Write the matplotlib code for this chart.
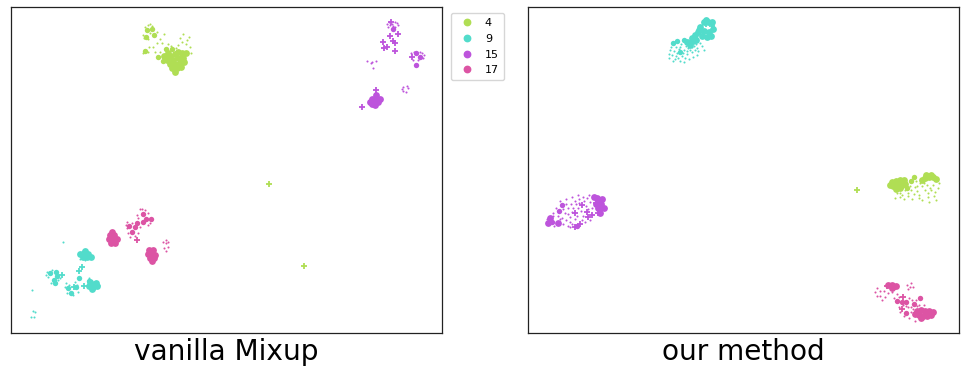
import matplotlib
matplotlib.use("Agg")
import matplotlib.pyplot as plt
from matplotlib.lines import Line2D

W, H = 967, 373
classes = ["4", "9", "15", "17"]
colors = {"4": "#b0de54", "9": "#52dccb", "15": "#bd54dc", "17": "#dc54a4"}
titles = ["vanilla Mixup", "our method"]

# ---- embedding readings, panel A (vanilla Mixup)
A4_circle = [(147,30),(152,29),(154,35),(146,37),(145,51),(166,49),(172,49),(158,57),(163,61)]
A4_plus = [(269,184),(304,266)]
A4_blob = [(175,54),(170,56),(178,52),(182,53),(173,60),(178,58),(183,58),(167,60),(170,64),(175,64),(180,63),(184,62),(172,68),(177,68),(181,67),(175,72),(186,53),(168,53),(164,56)]
A4_dots = [(150,24),(148,25),(145,27),(157,32),(144,38),(148,39),(149,47),(143,53),(148,52),(164,34),(160,39),(157,43),(162,43),(183,34),(189,37),(180,38),(187,40),(178,45),(190,47),(191,53),(155,52),(163,55),(186,44),(171,46),(168,44),(152,26),(143,35),(150,33),(182,42),(176,48),(153,47),(160,52)]
A9_circle = [(50,273),(56,272),(57,276),(54,280),(55,283),(68,288),(71,293),(76,287),(79,278),(89,281)]
A9_plus = [(82,267),(79,271),(62,275),(74,287),(84,286)]
A9_blob = [(80,254),(84,253),(88,254),(83,257),(87,257),(91,257),(85,251),(91,284),(95,284),(89,286),(93,287),(97,286),(92,289),(96,283),(90,282)]
A9_dots = [(63,242),(32,290),(33,311),(35,312),(31,317),(34,317),(47,272),(48,277),(58,280),(52,270),(60,278),(65,287),(67,293),(73,295),(78,292),(77,285),(69,285),(85,260),(80,259),(99,285),(89,278),(46,275),(51,283),(66,283),(75,282)]
A15_circle = [(393,29),(416,53),(420,57),(416,65)]
A15_plus = [(391,22),(390,36),(398,34),(383,42),(395,43),(393,41),(387,47),(384,48),(395,51),(412,57),(376,90),(362,107)]
A15_blob = [(372,99),(376,98),(380,99),(374,102),(378,102),(372,104),(376,95),(370,102),(375,105)]
A15_dots = [(387,24),(389,22),(397,23),(398,25),(395,27),(388,27),(392,24),(393,26),(411,53),(422,53),(423,58),(418,60),(414,52),(420,52),(367,61),(372,62),(376,61),(373,68),(371,63),(403,87),(407,86),(408,88),(403,91),(406,92),(402,89),(390,25),(395,22),(424,55),(413,60)]
A17_circle = [(143,214),(143,222),(137,223),(129,226),(135,227),(132,232),(151,219),(146,219)]
A17_plus = [(137,240)]
A17_blob = [(110,235),(114,235),(109,239),(113,239),(117,239),(111,243),(115,243),(149,250),(153,250),(148,254),(152,254),(155,255),(150,258),(154,258),(152,261),(112,232)]
A17_dots = [(140,209),(137,215),(148,213),(138,218),(127,222),(127,228),(132,223),(128,233),(138,233),(130,237),(166,240),(166,243),(166,251),(164,248),(168,247),(163,242),(168,242),(145,210),(150,223),(126,225),(140,227),(135,236),(142,209),(148,225)]

# ---- embedding readings, panel B (our method)
B4_circle = [(914,177),(907,188),(911,181),(902,186)]
B4_plus = [(857,190)]
B4_blob = [(892,182),(896,181),(900,180),(904,180),(893,186),(897,185),(901,184),(905,184),(896,189),(900,188),(925,178),(929,177),(933,177),(936,179),(926,175),(931,175),(922,180),(890,185)]
B4_dots = [(897,193),(902,195),(908,193),(914,194),(919,195),(925,190),(931,190),(938,188),(895,198),(904,199),(912,199),(919,198),(928,197),(934,196),(929,202),(936,200),(910,186),(917,186),(922,186),(927,185),(933,185),(939,183),(917,191),(905,190),(900,193),(922,200),(916,181),(920,183),(911,190),(928,193),(935,192),(915,187),(924,183),(930,188),(908,196),(900,197)]
B9_circle = [(673,43),(680,52),(677,41),(684,40),(688,42)]
B9_plus = [(706,24),(712,26)]
B9_blob = [(704,22),(708,22),(712,22),(700,27),(704,31),(709,32),(713,29),(698,32),(702,36),(707,37),(695,35),(692,38),(687,42),(711,36),(706,20),(699,30),(693,41),(690,45),(696,40)]
B9_dots = [(670,50),(672,55),(675,59),(680,61),(684,62),(671,47),(676,47),(680,47),(684,50),(688,48),(692,47),(697,48),(702,46),(698,51),(692,52),(687,54),(682,56),(677,53),(689,59),(693,57),(697,55),(704,50),(669,58),(674,51),(686,46),(690,44),(696,44),(673,61),(678,58),(685,58),(681,44),(683,53),(690,50),(695,50),(700,43),(676,56),(669,54),(694,46),(679,49),(687,51)]
B15_circle = [(562,205),(559,211),(600,200),(552,222),(577,226)]
B15_plus = [(588,217),(575,227),(580,224),(582,205),(575,213),(587,212),(592,215),(601,210),(598,213),(596,203)]
B15_blob = [(597,198),(602,199),(596,204),(601,204),(604,208),(598,208),(594,197),(600,213),(548,223),(550,218),(558,223)]
B15_dots = [(558,216),(562,218),(566,220),(570,217),(575,219),(565,213),(568,208),(571,204),(575,201),(579,199),(583,197),(587,198),(590,202),(586,206),(578,208),(572,212),(583,216),(563,224),(568,226),(570,227),(554,226),(547,219),(581,211),(566,204),(592,208),(589,195),(576,204),(560,219),(553,216),(570,222),(585,222),(563,209),(568,214),(573,208),(579,203),(584,201),(588,209),(577,216),(582,220),(572,224),(556,208),(560,201),(566,199),(572,197),(578,195),(553,213),(590,220)]
B17_circle = [(920,298),(897,301),(902,302),(906,302),(914,304),(906,313)]
B17_plus = [(903,297),(902,309),(887,286),(895,287)]
B17_blob = [(888,285),(892,285),(896,286),(892,288),(917,311),(921,310),(925,311),(929,311),(933,312),(915,314),(919,315),(923,316),(927,316),(931,315),(921,318)]
B17_dots = [(875,292),(877,288),(880,291),(884,291),(888,293),(892,292),(880,296),(885,297),(877,296),(907,285),(911,283),(913,287),(908,289),(910,287),(899,297),(909,298),(911,307),(903,305),(899,307),(908,307),(912,300),(916,300),(911,312),(904,316),(909,318),(915,321),(897,294),(919,305),(924,305),(906,306),(900,312),(913,309),(917,306),(894,298),(882,300)]

panels = [
    {"box": (11, 7, 442, 333),
     "series": {"4": (A4_circle, A4_plus, A4_blob, A4_dots), "9": (A9_circle, A9_plus, A9_blob, A9_dots),
                "15": (A15_circle, A15_plus, A15_blob, A15_dots), "17": (A17_circle, A17_plus, A17_blob, A17_dots)}},
    {"box": (528, 7, 959, 333),
     "series": {"4": (B4_circle, B4_plus, B4_blob, B4_dots), "9": (B9_circle, B9_plus, B9_blob, B9_dots),
                "15": (B15_circle, B15_plus, B15_blob, B15_dots), "17": (B17_circle, B17_plus, B17_blob, B17_dots)}},
]

fig = plt.figure(figsize=(W / 100, H / 100), dpi=100)


def scatter(ax, pts, color, **kw):
    if pts:
        xs, ys = zip(*pts)
        ax.scatter(xs, ys, color=color, **kw)


for panel, title in zip(panels, titles):
    x0, y0, x1, y1 = panel["box"]
    ax = fig.add_axes([x0 / W, 1 - y1 / H, (x1 - x0) / W, (y1 - y0) / H])
    for cls in classes:
        circ, plus, blob, dots = panel["series"][cls]
        c = colors[cls]
        scatter(ax, dots, c, s=2.2, marker="o", linewidths=0)
        scatter(ax, blob, c, s=24, marker="o", linewidths=0)
        scatter(ax, circ, c, s=15, marker="o", linewidths=0)
        scatter(ax, plus, c, s=24, marker="+", linewidths=1.3)
    ax.set_xlim(x0, x1)
    ax.set_ylim(y1, y0)
    ax.set_xticks([])
    ax.set_yticks([])
    for s in ax.spines.values():
        s.set_linewidth(0.9)
        s.set_color("#222222")
    ax.set_xlabel(title, fontsize=20.2, labelpad=3.5)
    if title == titles[0]:
        handles = [Line2D([], [], linestyle="", marker="o", color=colors[c], markersize=4.6) for c in classes]
        ax.legend(handles, classes, loc="upper left", bbox_to_anchor=(451 / W, 1 - 13 / H),
                  bbox_transform=fig.transFigure, fontsize=8, borderaxespad=0, labelspacing=0.52,
                  handletextpad=0.6, borderpad=0.45)

fig.savefig("out.png", dpi=100)
